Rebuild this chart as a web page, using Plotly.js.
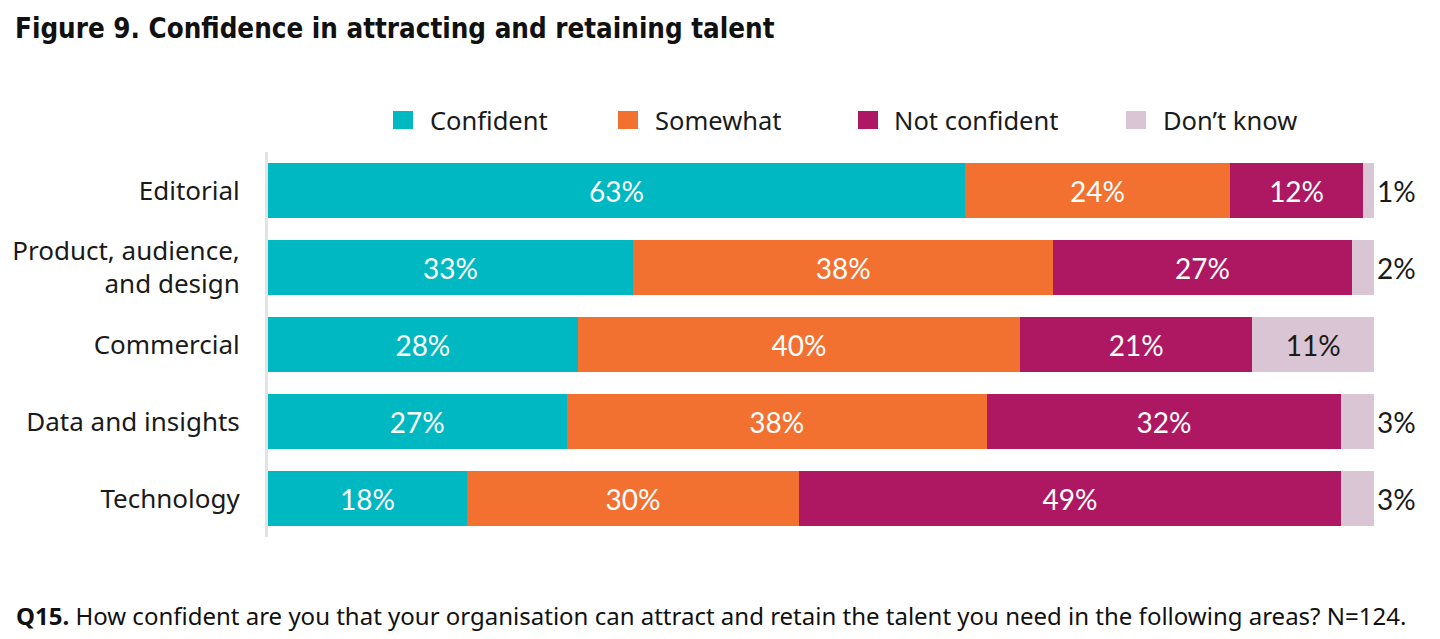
<!DOCTYPE html>
<html>
<head>
<meta charset="utf-8">
<script src="https://cdn.plot.ly/plotly-3.0.1.min.js"></script>
<style>
html,body{margin:0;padding:0;background:#fff;}
#chart{width:1440px;height:639px;}
</style>
</head>
<body>
<div id="chart"></div>
<script>
const categories = ["Editorial", "Product, audience,<br>and design", "Commercial", "Data and insights", "Technology"];
const confident = [63, 33, 28, 27, 18];
const somewhat = [24, 38, 40, 38, 30];
const notConfident = [12, 27, 21, 32, 49];
const dontKnow = [1, 2, 11, 3, 3];
const seriesNames = ["Confident", "Somewhat", "Not confident", "Don\u2019t know"];
const colors = ["#00b8c1", "#f37130", "#ae1863", "#dac5d4"];

const labelFont = "Lato, 'Open Sans', sans-serif";
const mainFont = "'Noto Sans', 'Open Sans', sans-serif";
const condFont = "'DejaVu Sans Condensed', 'Liberation Sans Narrow', Roboto, sans-serif";

// plot-area geometry (pixels) used to place legend items & notes
const W = 1440, H = 639;
const M = {l: 268, r: 66, t: 152, b: 102};
const plotW = W - M.l - M.r, plotH = H - M.t - M.b;
const px2x = px => (px - M.l) / plotW;
const py2y = py => (H - M.b - py) / plotH;

function mkTrace(vals, i, extra) {
  return Object.assign({
    type: "bar",
    orientation: "h",
    name: seriesNames[i],
    y: categories,
    x: vals,
    marker: {color: colors[i], line: {width: 0}},
    text: vals.map(v => v + "%"),
    textposition: "inside",
    insidetextanchor: "middle",
    textangle: 0,
    constraintext: "none",
    textfont: {family: labelFont, size: 28, color: "#ffffff"},
    hoverinfo: "skip",
    cliponaxis: false,
    showlegend: false
  }, extra || {});
}

const traces = [
  mkTrace(confident, 0),
  mkTrace(somewhat, 1),
  mkTrace(notConfident, 2),
  mkTrace(dontKnow, 3, {
    textposition: dontKnow.map(v => v >= 5 ? "inside" : "outside"),
    textfont: {family: labelFont, size: 28, color: "#1a1a1a"},
    outsidetextfont: {family: labelFont, size: 28, color: "#1a1a1a"},
    insidetextfont: {family: labelFont, size: 28, color: "#1a1a1a"}
  })
];

// custom legend built from seriesNames / colors
const legendSquareLeft = [393, 618, 858, 1126];
const legendTextLeft = [428, 653, 892, 1161];
const legendCy = 120;
const shapes = seriesNames.map((n, i) => ({
  type: "rect", xref: "paper", yref: "paper",
  x0: px2x(legendSquareLeft[i]), x1: px2x(legendSquareLeft[i] + 20),
  y0: py2y(legendCy + 9), y1: py2y(legendCy - 9),
  fillcolor: colors[i], line: {width: 0}
}));
const annotations = seriesNames.map((n, i) => ({
  xref: "paper", yref: "paper",
  x: px2x(legendTextLeft[i]), y: py2y(legendCy),
  xanchor: "left", yanchor: "middle", showarrow: false,
  text: n, font: {family: mainFont, size: 25.5, color: "#1a1a1a"}
}));
annotations.push({
  xref: "paper", yref: "paper",
  x: px2x(14), y: py2y(615), xanchor: "left", yanchor: "middle",
  showarrow: false,
  text: "<b>Q15.</b> How confident are you that your organisation can attract and retain the talent you need in the following areas? N=124.",
  font: {family: mainFont, size: 24, color: "#111111"}
});

const layout = {
  width: W,
  height: H,
  barmode: "stack",
  bargap: 0.285,
  paper_bgcolor: "#ffffff",
  plot_bgcolor: "#ffffff",
  margin: M,
  showlegend: false,
  font: {family: mainFont, color: "#1a1a1a"},
  title: {
    text: "<b>Figure 9. Confidence in attracting and retaining talent</b>",
    font: {family: condFont, size: 27.5, color: "#111111"},
    xref: "container", x: 15 / W, xanchor: "left",
    yref: "container", y: 1 - 28 / H, yanchor: "middle"
  },
  xaxis: {
    range: [0, 100],
    showgrid: false, zeroline: false, showticklabels: false, showline: false, ticks: "",
    fixedrange: true
  },
  yaxis: {
    autorange: "reversed",
    showgrid: false, zeroline: false,
    showline: true, linecolor: "#e3e3e3", linewidth: 3,
    ticks: "", ticklabelstandoff: 20,
    tickfont: {family: mainFont, size: 26, color: "#1a1a1a"},
    fixedrange: true
  },
  shapes: shapes,
  annotations: annotations
};

Plotly.newPlot("chart", traces, layout, {displayModeBar: false, staticPlot: true});
</script>
</body>
</html>
